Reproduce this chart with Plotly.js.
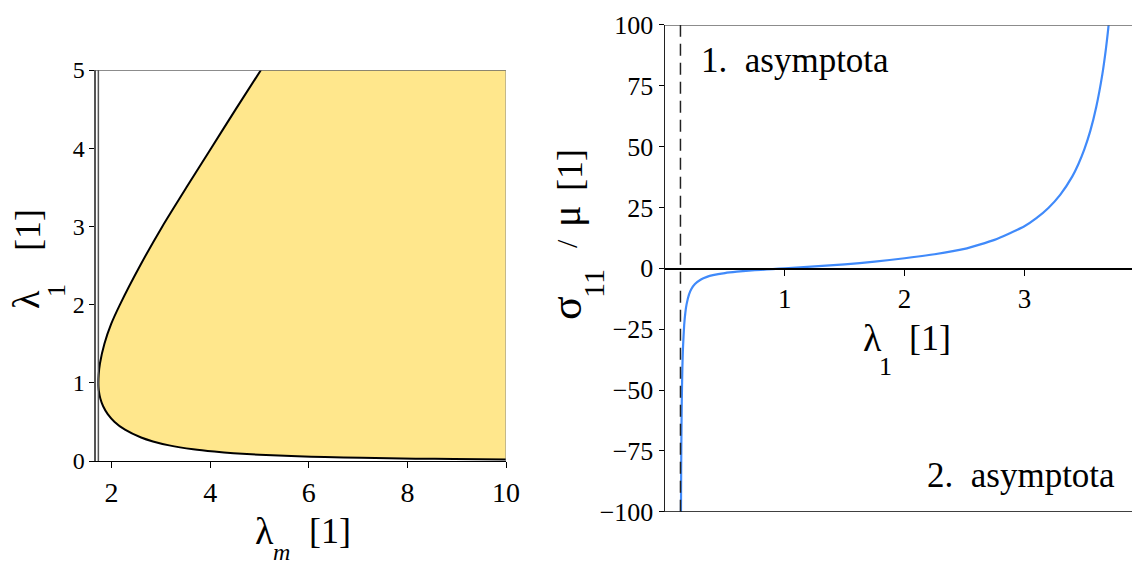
<!DOCTYPE html>
<html>
<head>
<meta charset="utf-8">
<script src="https://cdn.plot.ly/plotly-3.0.1.min.js"></script>
<style>
  html, body { margin: 0; padding: 0; background: #fff; }
  #chart { width: 1132px; height: 567px; }
  #chart svg text { font-family: serif !important; }
</style>
</head>
<body>
<div id="chart"></div>
<script>
// Left panel: admissible region boundary (lambda_1 vs lambda_m)
const boundaryLambda1 = [5, 4.5, 4, 3.5, 3, 2.5, 2, 1.75, 1.5, 1.25, 1.1, 1.0, 0.95, 0.9, 0.8, 0.7, 0.6, 0.5, 0.4, 0.3, 0.25, 0.2, 0.15, 0.12, 0.1, 0.08, 0.06, 0.05, 0.04, 0.03, 0.025, 0.02];
const boundaryLambdaM = [5.03, 4.52, 4.02, 3.52, 3.03, 2.58, 2.17, 1.99, 1.855, 1.765, 1.738, 1.732, 1.734, 1.741, 1.772, 1.829, 1.922, 2.062, 2.272, 2.599, 2.839, 3.169, 3.655, 4.084, 4.473, 5.001, 5.774, 6.325, 7.071, 8.165, 8.944, 10.0];
const lambdaMMin = 1.732;

// Right panel: normalised stress sigma_11 / mu against stretch lambda_1
const stretch = [0.1325, 0.135, 0.1375, 0.14, 0.145, 0.15, 0.16, 0.17, 0.18, 0.2, 0.22, 0.25, 0.3, 0.35, 0.4, 0.5, 0.6, 0.7, 0.8, 0.9, 1.0, 1.25, 1.5, 1.75, 2.0, 2.25, 2.5, 2.75, 3.0, 3.1, 3.2, 3.3, 3.4, 3.45, 3.5, 3.55, 3.6, 3.65, 3.68, 3.7, 3.72];
const stress = [-110.2, -82.3, -65.7, -54.6, -40.9, -32.7, -23.3, -18.09, -14.8, -10.82, -8.52, -6.45, -4.56, -3.50, -2.81, -1.94, -1.38, -0.964, -0.617, -0.302, 0, 0.772, 1.657, 2.745, 4.14, 5.8, 8.0, 11.7, 17.3, 20.6, 24.8, 30.3, 37.8, 42.8, 48.9, 56.5, 66.4, 79.6, 90.1, 98.6, 108.6];
const asymptote1 = 0.129;

const leftXTicks = [2, 4, 6, 8, 10];
const leftYTicks = [0, 1, 2, 3, 4, 5];
const rightXTicks = [1, 2, 3];
const rightYTicks = [-100, -75, -50, -25, 0, 25, 50, 75, 100];
const rightYTickText = ['\u2212100', '\u221275', '\u221250', '\u221225', '0', '25', '50', '75', '100'];

const serif = 'serif';

// polygon for the shaded region: boundary then the top-right corner
const fillX = boundaryLambdaM.concat([10, 10]);
const fillY = boundaryLambda1.concat([0.02, 5]);

const traces = [
  {
    x: fillX, y: fillY, xaxis: 'x', yaxis: 'y',
    type: 'scatter', mode: 'lines', fill: 'toself',
    fillcolor: 'rgb(255,231,140)', line: {width: 0}, hoverinfo: 'skip'
  },
  {
    x: boundaryLambdaM, y: boundaryLambda1, xaxis: 'x', yaxis: 'y',
    type: 'scatter', mode: 'lines', line: {color: '#000', width: 2, shape: 'spline', smoothing: 0.6}
  },
  {
    x: stretch, y: stress, xaxis: 'x2', yaxis: 'y2',
    type: 'scatter', mode: 'lines', line: {color: 'rgb(64,138,250)', width: 2.2, shape: 'spline', smoothing: 0.5}
  }
];

const tickFont = (s) => ({family: serif, size: s, color: '#000'});
const txt = (px, py, text, size, angle, anchor) => ({
  xref: 'paper', yref: 'paper', x: px / 1132, y: 1 - py / 567, text: text,
  textangle: angle || 0, showarrow: false,
  font: {family: serif, size: size, color: '#000'},
  xanchor: anchor || 'center', yanchor: 'middle'
});

const layout = {
  width: 1132, height: 567,
  margin: {l: 0, r: 0, t: 0, b: 0},
  paper_bgcolor: '#fff', plot_bgcolor: 'rgba(0,0,0,0)',
  font: {family: serif},
  showlegend: false,
  xaxis: {
    domain: [0.0848, 0.447], range: [1.684, 10], anchor: 'y',
    tickvals: leftXTicks, ticks: 'outside', ticklen: 6, tickcolor: '#000',
    showline: true, linecolor: '#000', linewidth: 1.5, showgrid: false, zeroline: false,
    tickfont: tickFont(28)
  },
  yaxis: {
    domain: [0.18695, 0.87654], range: [0, 5], anchor: 'x',
    tickvals: leftYTicks, ticks: 'outside', ticklen: 5, tickcolor: '#000',
    showline: true, linecolor: '#555', linewidth: 1.5, showgrid: false, zeroline: false,
    tickfont: tickFont(24)
  },
  xaxis2: {
    domain: [0.58746, 1.0], range: [0, 3.898], anchor: 'free', position: 0.52672,
    tickvals: rightXTicks, ticks: 'outside', ticklen: 6, tickcolor: '#000',
    showline: true, linecolor: '#000', linewidth: 1.3, showgrid: false, zeroline: false,
    tickfont: tickFont(27)
  },
  yaxis2: {
    domain: [0.09753, 0.95591], range: [-100, 100], anchor: 'x2',
    tickvals: rightYTicks, ticktext: rightYTickText, ticks: 'outside', ticklen: 5, tickcolor: '#000',
    showline: true, linecolor: '#222', linewidth: 1.5, showgrid: false, zeroline: false,
    tickfont: tickFont(26)
  },
  shapes: [
    // left panel frame pieces
    {type: 'line', xref: 'x', yref: 'y', x0: 1.684, x1: 10, y0: 5, y1: 5, line: {color: '#666', width: 1.5}},
    {type: 'line', xref: 'x', yref: 'y', x0: 10, x1: 10, y0: 0, y1: 5, line: {color: '#888', width: 1}},
    {type: 'line', xref: 'x', yref: 'y', x0: lambdaMMin, x1: lambdaMMin, y0: 0, y1: 5, line: {color: '#555', width: 1.5}},
    // right panel frame pieces
    {type: 'line', xref: 'x2', yref: 'y2', x0: 0, x1: 3.898, y0: 100, y1: 100, line: {color: '#666', width: 1.5}},
    {type: 'line', xref: 'x2', yref: 'y2', x0: 0, x1: 3.898, y0: -100, y1: -100, line: {color: '#000', width: 1.3}},
    {type: 'line', xref: 'x2', yref: 'y2', x0: asymptote1, x1: asymptote1, y0: -100, y1: 100, line: {color: '#222', width: 1.5, dash: '12px,7px'}}
  ],
  annotations: [
    // left x title
    txt(264, 531, '\u03bb', 38),
    txt(281, 552, '<i>m</i>', 24),
    txt(330, 531, '[1]', 36),
    // left y title
    txt(26, 300, '\u03bb', 38, -90),
    txt(56, 291, '1', 26, -90),
    txt(28, 230, '[1]', 36, -90),
    // right y title
    txt(566, 308, '\u03c3', 44, -90),
    txt(593, 283, '11', 30, -90),
    txt(566, 244, '/', 30, -90),
    txt(567, 217, '\u03bc', 40, -90),
    txt(570, 170, '[1]', 36, -90),
    // right x title
    txt(872, 338, '\u03bb', 38),
    txt(885, 366, '1', 26),
    txt(930, 338, '[1]', 36),
    // asymptote labels
    txt(699, 60, '1.  asymptota', 35, 0, 'left'),
    txt(1117, 475, '2.  asymptota', 35, 0, 'right')
  ]
};

Plotly.newPlot('chart', traces, layout, {staticPlot: true, displayModeBar: false});
</script>
</body>
</html>
